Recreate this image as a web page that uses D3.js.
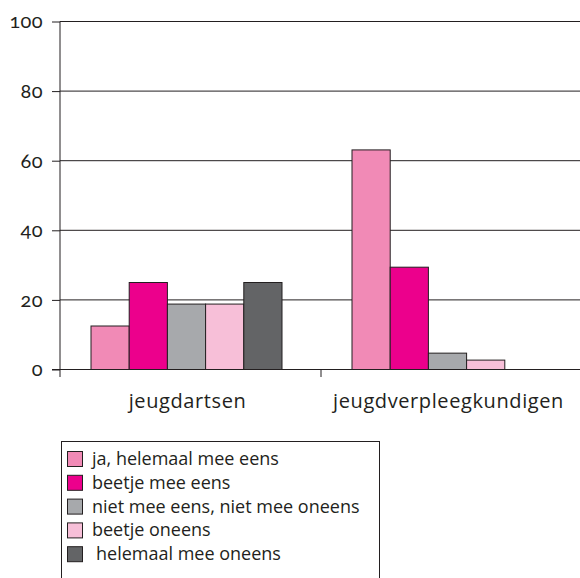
<!DOCTYPE html>
<html>
<head>
<meta charset="utf-8">
<script src="https://cdn.jsdelivr.net/npm/d3@7"></script>
<style>
body { margin: 0; background: #fff; }
svg text { fill: #231f20; }
</style>
</head>
<body>
<div id="container"></div>
<script>
// data
const categories = ["jeugdartsen", "jeugdverpleegkundigen"];
const series = ["ja, helemaal mee eens", "beetje mee eens", "niet mee eens, niet mee oneens", "beetje oneens", "helemaal mee oneens"];
const jeugdartsen = [12.5, 25, 18.8, 18.8, 25];
const jeugdverpleegkundigen = [63.1, 29.4, 4.7, 2.7, 0];
const yTicks = [0, 20, 40, 60, 80, 100];
const colors = ["#f18ab6", "#ec008c", "#a7a9ac", "#f7bfd8", "#636466"];

const width = 580, height = 578;
const values = [jeugdartsen, jeugdverpleegkundigen];

const svg = d3.select("#container").append("svg")
    .attr("width", width)
    .attr("height", height);

//----------------------------SCALES----------------------------//
const xScale = d3.scaleBand().domain(categories).range([60, 582]);
const yScale = d3.scaleLinear().domain([0, 100]).range([369.5, 21.5]);
const xInner = d3.scaleBand().domain(series)
    .range([0, 191]);

//-----------------------------GRID-----------------------------//
svg.append("g")
  .selectAll("line")
  .data(yTicks.filter(d => d > 0))
  .join("line")
    .attr("x1", 60).attr("x2", 580)
    .attr("y1", d => yScale(d)).attr("y2", d => yScale(d))
    .attr("stroke", "#231f20").attr("stroke-width", 1);

//----------------------------BARS------------------------------//
const groups = svg.selectAll("g.cat")
  .data(categories)
  .join("g")
    .attr("class", "cat")
    .attr("transform", d => "translate(" + (xScale(d) + xScale.bandwidth() / 2 - 99.5) + ",0)");

groups.selectAll("rect")
  .data((d, i) => values[i].map((v, j) => ({ s: series[j], v: v, c: colors[j] })).filter(e => e.v > 0))
  .join("rect")
    .attr("x", d => xInner(d.s))
    .attr("width", xInner.bandwidth())
    .attr("y", d => yScale(d.v))
    .attr("height", d => yScale(0) - yScale(d.v))
    .attr("fill", d => d.c)
    .attr("stroke", "#231f20")
    .attr("stroke-width", 1);

//-----------------------------AXES-----------------------------//
const yaxis = d3.axisLeft(yScale).tickValues(yTicks).tickSize(8).tickPadding(9);
const ya = svg.append("g")
    .attr("transform", "translate(60,0)")
    .call(yaxis);
ya.select(".domain").remove();
ya.selectAll(".tick line").attr("stroke", "#231f20");
ya.selectAll(".tick text")
    .style("font-family", "Lato, sans-serif")
    .style("font-feature-settings", "'onum' 1")
    .style("font-size", "20px")
    .style("letter-spacing", "0.4px")
    .attr("fill", "#231f20");

svg.append("line")
    .attr("x1", 60).attr("x2", 60)
    .attr("y1", yScale(100)).attr("y2", 377)
    .attr("stroke", "#231f20");

svg.append("line")
    .attr("x1", 52).attr("x2", 580)
    .attr("y1", yScale(0)).attr("y2", yScale(0))
    .attr("stroke", "#231f20");

// category tick between groups
svg.append("line")
    .attr("x1", xScale(categories[1])).attr("x2", xScale(categories[1]))
    .attr("y1", yScale(0)).attr("y2", 377)
    .attr("stroke", "#231f20");

svg.append("g")
  .selectAll("text")
  .data(categories)
  .join("text")
    .attr("x", d => xScale(d) + xScale.bandwidth() / 2 - 3)
    .attr("y", 408)
    .attr("text-anchor", "middle")
    .style("font-family", "'Open Sans', sans-serif")
    .style("font-size", "20px")
    .style("letter-spacing", "0.6px")
    .text(d => d);

//----------------------------LEGEND----------------------------//
svg.append("rect")
    .attr("x", 61.5).attr("y", 441.5)
    .attr("width", 318).attr("height", 150)
    .attr("fill", "none")
    .attr("stroke", "#231f20");

const legend = svg.selectAll("g.leg")
  .data(series)
  .join("g")
    .attr("class", "leg")
    .attr("transform", (d, i) => "translate(0," + (459 + i * 23.8) + ")");

legend.append("rect")
    .attr("x", 67.5).attr("y", -7.5)
    .attr("width", 15).attr("height", 15)
    .attr("fill", (d, i) => colors[i])
    .attr("stroke", "#231f20");

legend.append("text")
    .attr("x", (d, i) => i === 4 ? 96 : 92)
    .attr("y", 6)
    .style("font-family", "'Open Sans', sans-serif")
    .style("font-size", "18px")
    .text(d => d);
</script>
</body>
</html>
